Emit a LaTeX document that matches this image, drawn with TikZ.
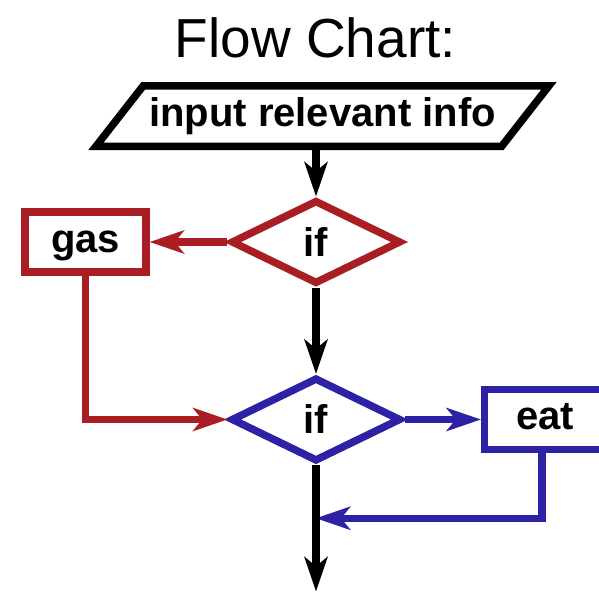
\documentclass[tikz,border=0pt]{standalone}
\usepackage{fontspec}
\setmainfont{Liberation Sans}
\usetikzlibrary{shapes,shapes.geometric,positioning,arrows,arrows.meta}
\definecolor{fcred}{HTML}{A81E22}
\definecolor{fcblue}{HTML}{2D22A5}
\begin{document}
\begin{tikzpicture}[x=1pt,y=-1pt, line width=7.5pt
  ]
% Block and arrow styles
\tikzstyle{io}=[draw=black,trapezium,trapezium left angle=52,trapezium right angle=128,trapezium stretches body=true,minimum width=453pt,inner xsep=0pt,inner ysep=11.5pt,text height=29pt,text depth=8.5pt,font=\fontsize{40}{48}\selectfont\bfseries,text=black]
\tikzstyle{dec}=[diamond,minimum width=170pt,minimum height=84pt,inner sep=0pt,font=\fontsize{40}{48}\selectfont\bfseries,text=black]
\tikzstyle{act}=[rectangle,minimum width=121pt,minimum height=60pt,inner sep=0pt,text height=29pt,text depth=8.5pt,font=\fontsize{40}{48}\selectfont\bfseries,text=black]
\tikzstyle{link}=[-{Stealth[length=35pt,width=24pt,inset=10pt,line width=0pt]}]

\useasboundingbox (0,0) rectangle (599,594);
% Blocks
\node[font=\fontsize{55}{66}\selectfont, anchor=base] (ttl) at (315.5,57) {Flow Chart:};
\node[io] (inp) at (322.5,116) {input relevant info};
\node[dec, draw=fcred] (if1) at (316,242) {if};
\node[dec, draw=fcblue, below=86pt of if1] (if2) {if};
\node[act, draw=fcred, left=77.5pt of if1] (gas) {gas};
\node[act, draw=fcblue, right=76pt of if2] (eat) {eat};
\coordinate[below=53pt of if2.south] (mrg);
\coordinate[below=126pt of if2.south] (out);

% Arrows
\draw[link, fcred] (if1.west) -- (gas.east);
\draw[link, fcred] (gas.south) |- (if2.west);
\draw[link, fcblue] (if2.east) -- (eat.west);
\draw[link, fcblue] ([xshift=-3pt]eat.south) |- (mrg);
\draw[link] (inp.south -| if1.north) -- (if1.north);
\draw[link] (if1.south) -- (if2.north);
\draw[link] (if2.south) -- (out);
\end{tikzpicture}
\end{document}
